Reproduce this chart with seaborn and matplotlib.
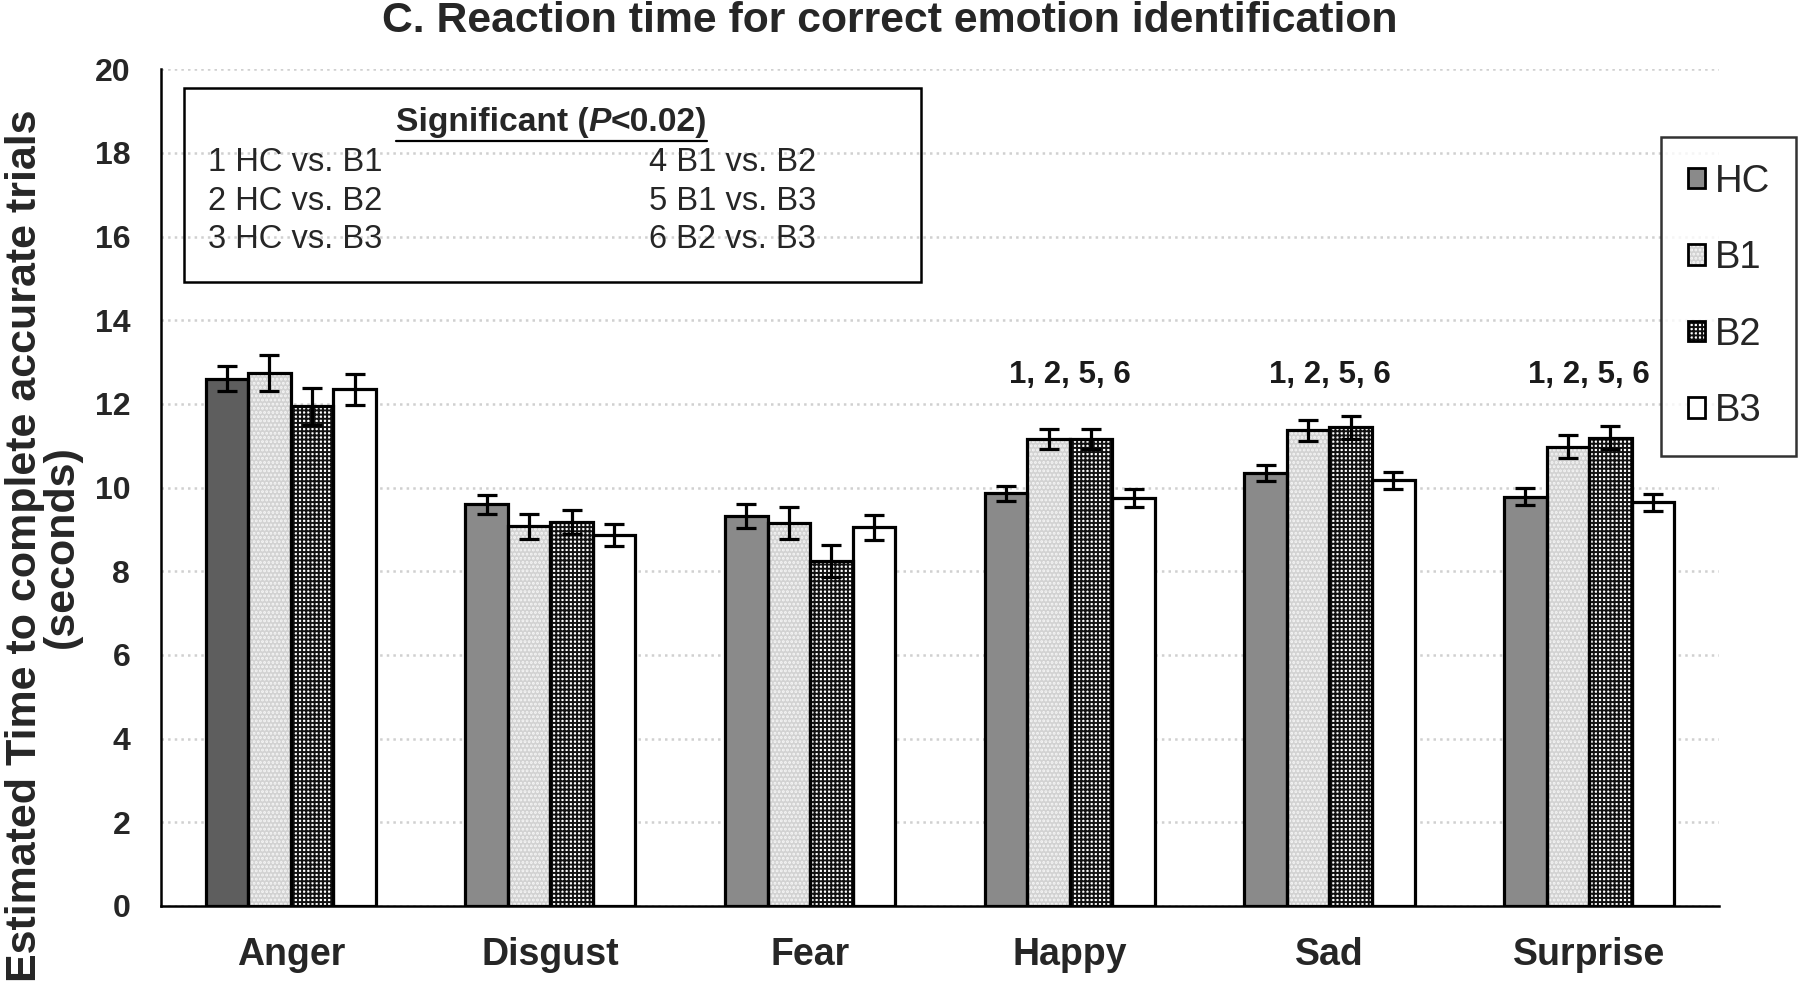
import matplotlib
matplotlib.use("Agg")
import matplotlib.pyplot as plt
from matplotlib.patches import Rectangle
from matplotlib.legend_handler import HandlerTuple
import seaborn as sns
import pandas as pd

emotions = ["Anger", "Disgust", "Fear", "Happy", "Sad", "Surprise"]
groups = ["HC", "B1", "B2", "B3"]
hc = [12.6, 9.6, 9.32, 9.86, 10.35, 9.78]
b1 = [12.75, 9.07, 9.15, 11.16, 11.37, 10.98]
b2 = [11.94, 9.18, 8.25, 11.16, 11.44, 11.19]
b3 = [12.35, 8.87, 9.05, 9.75, 10.17, 9.65]
hc_err = [0.30, 0.23, 0.28, 0.17, 0.20, 0.20]
b1_err = [0.43, 0.31, 0.38, 0.23, 0.25, 0.27]
b2_err = [0.45, 0.29, 0.38, 0.23, 0.27, 0.27]
b3_err = [0.37, 0.27, 0.30, 0.22, 0.21, 0.20]
sig_label = "1, 2, 5, 6"
sig_emotions = ["Happy", "Sad", "Surprise"]
sig_y = 12.7
yticks = list(range(0, 21, 2))

sns.set_style("white")
plt.rcParams["font.family"] = ["Liberation Sans", "DejaVu Sans"]
plt.rcParams["hatch.linewidth"] = 1.4

vals = [hc, b1, b2, b3]
errs = [hc_err, b1_err, b2_err, b3_err]
df = pd.DataFrame({
    "emotion": [e for _ in groups for e in emotions],
    "group": [g for g in groups for _ in emotions],
    "time": [v for s in vals for v in s],
})

fig = plt.figure(figsize=(18, 9.88), dpi=100)
ax = fig.add_axes([0.0894, 0.083, 0.8656, 0.847])

sns.barplot(data=df, x="emotion", y="time", hue="group", order=emotions,
            hue_order=groups, width=0.655, errorbar=None, ax=ax, legend=False)

styles = {
    "HC": dict(face="#8a8a8a", hatch=None, hcol="#8a8a8a"),
    "B1": dict(face="#d2d2d2", hatch="....", hcol="#f6f6f6"),
    "B2": dict(face="#ffffff", hatch="++++", hcol="#111111"),
    "B3": dict(face="#ffffff", hatch=None, hcol="#ffffff"),
}

for gi, (g, cont) in enumerate(zip(groups, ax.containers)):
    st = styles[g]
    for ei, bar in enumerate(cont):
        face = st["face"]
        if g == "HC" and emotions[ei] == "Anger":
            face = "#5e5e5e"
        bar.set_facecolor(face)
        bar.set_edgecolor(st["hcol"])
        bar.set_linewidth(0)
        if st["hatch"]:
            bar.set_hatch(st["hatch"])
        ax.add_patch(Rectangle(bar.get_xy(), bar.get_width(), bar.get_height(),
                               fill=False, edgecolor="black", linewidth=2.3, zorder=3))
        xc = bar.get_x() + bar.get_width() / 2
        ax.errorbar(xc, vals[gi][ei], yerr=errs[gi][ei], fmt="none",
                    ecolor="black", elinewidth=2.3, capsize=7, capthick=2.3, zorder=4)

for e in sig_emotions:
    ax.text(emotions.index(e), sig_y, sig_label, ha="center", va="center",
            fontsize=22.5, fontweight="bold", color="#1a1a1a")

ax.set_xlim(-0.5, 5.5)
ax.set_ylim(0, 20)
ax.set_yticks(yticks)
ax.grid(axis="y", color="#d0d0d0", linewidth=1.8, linestyle=":")
ax.set_axisbelow(True)
for s in ["top", "right"]:
    ax.spines[s].set_visible(False)
for s in ["left", "bottom"]:
    ax.spines[s].set_color("black")
    ax.spines[s].set_linewidth(1.8)
ax.tick_params(axis="both", length=0)
ax.tick_params(axis="y", pad=22, labelsize=23)
ax.tick_params(axis="x", pad=22, labelsize=27)
for lab in ax.get_xticklabels() + ax.get_yticklabels():
    lab.set_fontweight("bold")
ax.set_xlabel("")
ax.set_ylabel("Estimated Time to complete accurate trials\n(seconds)",
              fontsize=31, fontweight="bold", linespacing=0.88)
ax.yaxis.set_label_coords(-0.051, 0.43)

fig.text(0.4945, 0.979, "C. Reaction time for correct emotion identification",
         ha="center", va="center", fontsize=30.8, fontweight="bold")

# Significance box
fig.patches.append(Rectangle((184 / 1800, 1 - 282 / 988), (921 - 184) / 1800, (282 - 88) / 988,
                             transform=fig.transFigure, fill=False, edgecolor="black",
                             linewidth=1.8, zorder=5))
t1 = fig.text(396 / 1800, 1 - 131 / 988, "Significant (", ha="left", va="baseline",
              fontsize=24.2, fontweight="bold")
t2 = ax.annotate("P", xy=(1, 0), xycoords=t1, ha="left", va="bottom",
                 fontsize=24.2, fontweight="bold", fontstyle="italic")
t3 = ax.annotate("<0.02)", xy=(1, 0), xycoords=t2, ha="left", va="bottom",
                 fontsize=24.2, fontweight="bold")
left_col = ["1 HC vs. B1", "2 HC vs. B2", "3 HC vs. B3"]
right_col = ["4 B1 vs. B2", "5 B1 vs. B3", "6 B2 vs. B3"]
row_y = [162, 201, 240]
for txt, yy in zip(left_col, row_y):
    fig.text(208 / 1800, 1 - yy / 988, txt, ha="left", va="center", fontsize=23.5)
for txt, yy in zip(right_col, row_y):
    fig.text(649 / 1800, 1 - yy / 988, txt, ha="left", va="center", fontsize=23.5)

fig.canvas.draw()
r = fig.canvas.get_renderer()
bb1 = t1.get_window_extent(r)
bb3 = t3.get_window_extent(r)
fig.add_artist(plt.Line2D([bb1.x0 / 1800, bb3.x1 / 1800],
                          [(bb1.y0 - 3) / 988, (bb1.y0 - 3) / 988],
                          transform=fig.transFigure, color="black", linewidth=1.6))

# Legend
handles = []
for g in groups:
    st = styles[g]
    fill = Rectangle((0, 0), 1, 1, facecolor=st["face"], hatch=st["hatch"],
                     edgecolor=st["hcol"], linewidth=0)
    outline = Rectangle((0, 0), 1, 1, fill=False, edgecolor="black", linewidth=2.0)
    handles.append((fill, outline))
leg = fig.legend(handles, groups, loc="upper left",
                 handler_map={tuple: HandlerTuple(ndivide=1, pad=0)},
                 bbox_to_anchor=(1661 / 1800, 1 - 137 / 988), frameon=True,
                 fontsize=27.5, labelspacing=1.06, handlelength=0.45, handleheight=0.45,
                 handletextpad=0.25, borderpad=0.7, borderaxespad=0, fancybox=False)
leg.get_frame().set_edgecolor("black")
leg.get_frame().set_linewidth(1.8)

fig.savefig("out.png", dpi=100)
